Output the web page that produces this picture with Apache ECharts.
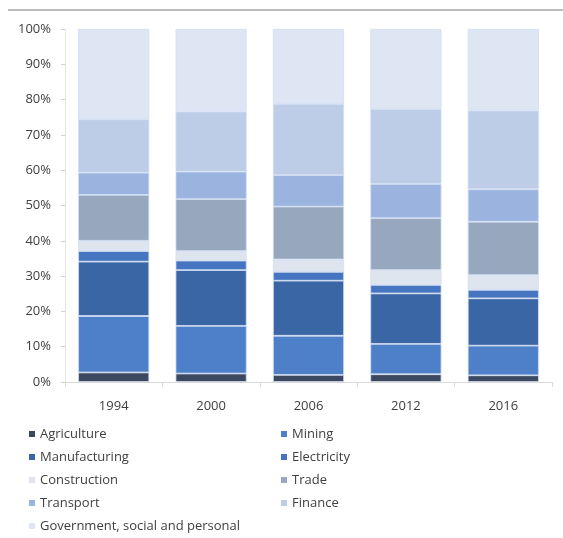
<!DOCTYPE html>
<html><head><meta charset="utf-8">
<script src="https://cdn.jsdelivr.net/npm/echarts@6/dist/echarts.min.js"></script>
<style>html,body{margin:0;padding:0;background:#fff}#c{width:563px;height:538px}</style>
</head><body><div id="c"></div>
<script>
var years = ['1994','2000','2006','2012','2016'];
var agriculture   = [2.7, 2.4, 2.0, 2.2, 1.9];
var mining        = [16.0, 13.5, 11.1, 8.6, 8.4];
var manufacturing = [15.4, 15.8, 15.6, 14.3, 13.4];
var electricity   = [3.0, 2.7, 2.5, 2.4, 2.4];
var construction  = [2.9, 2.7, 3.5, 4.2, 4.2];
var trade         = [13.0, 14.7, 15.0, 14.7, 15.1];
var transport     = [6.3, 7.8, 8.9, 9.7, 9.2];
var finance       = [15.1, 17.0, 20.2, 21.2, 22.3];
var government    = [25.6, 23.4, 21.2, 22.7, 23.1];
var yTicks = ['0%','10%','20%','30%','40%','50%','60%','70%','80%','90%','100%'];

var names = ['Agriculture','Mining','Manufacturing','Electricity','Construction','Trade','Transport','Finance','Government, social and personal'];
var datas = [agriculture, mining, manufacturing, electricity, construction, trade, transport, finance, government];
var colors = ['#3b4860','#4d80c8','#3a66a6','#4574c0','#dfe5ef','#96a7be','#9ab4df','#bdcde7','#dee6f3'];

var series = names.map(function(n,i){
  return {name:n, type:'bar', stack:'s', data:datas[i], barWidth:'73%',
    itemStyle:{color:colors[i], borderColor:'#d0ddf2', borderWidth:0.8}};
});
var chart = echarts.init(document.getElementById('c'));
var txt = {color:'#404040', fontFamily:'Open Sans', fontSize:13};
var legTxt = {color:'#404040', fontFamily:'Open Sans', fontSize:13, lineHeight:14};
chart.setOption({
  animation:false,
  grid:{left:65, right:11, top:29, bottom:156},
  xAxis:{type:'category', data:years,
    axisLine:{lineStyle:{color:'#d9d9d9'}}, axisTick:{show:true, lineStyle:{color:'#d9d9d9'}},
    axisLabel:Object.assign({margin:18}, txt)},
  yAxis:{type:'value', min:0, max:100, interval:10,
    axisLine:{show:true, lineStyle:{color:'#e6e6e6'}}, axisTick:{show:true, length:4, lineStyle:{color:'#d0d0d0'}},
    splitLine:{show:false},
    axisLabel:Object.assign({margin:14, formatter:function(v){return yTicks[Math.round(v/10)];}}, txt)},
  legend:[
    {orient:'vertical', left:29, top:427, height:120, padding:0, itemWidth:6, itemHeight:6, itemGap:9, icon:'rect',
     itemStyle:{borderWidth:0},
     data:[names[0],names[2],names[4],names[6],names[8]], textStyle:legTxt, selectedMode:false},
    {orient:'vertical', left:281, top:427, height:120, padding:0, itemWidth:6, itemHeight:6, itemGap:9, icon:'rect',
     itemStyle:{borderWidth:0},
     data:[names[1],names[3],names[5],names[7]], textStyle:legTxt, selectedMode:false}
  ],
  graphic:[{type:'line', shape:{x1:8,y1:10,x2:563,y2:10}, style:{stroke:'#a6a6a6', lineWidth:1.5}}],
  series:series
});
</script></body></html>
